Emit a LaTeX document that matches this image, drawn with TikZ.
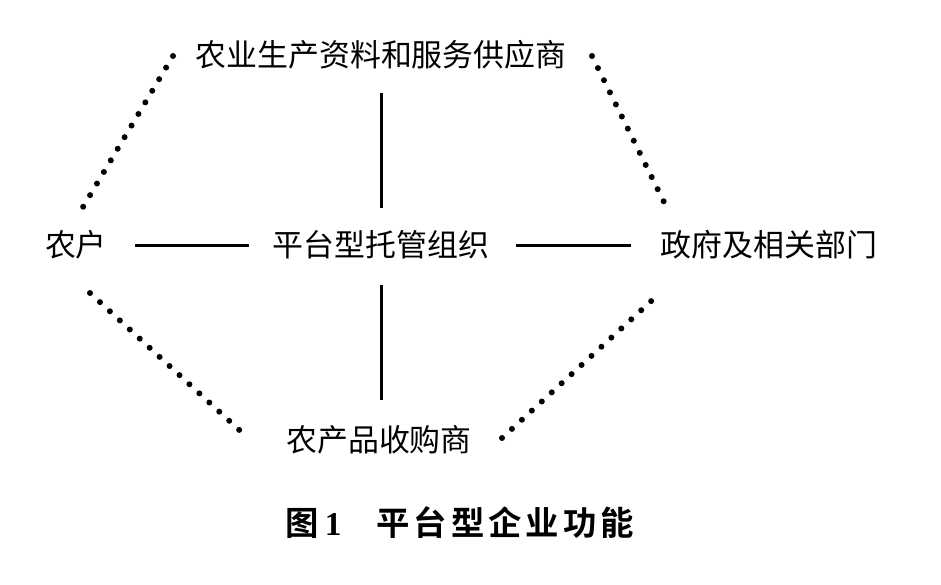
\documentclass[tikz,border=0pt]{standalone}
\usepackage{fontspec}
\newfontfamily\cjk{Noto Sans CJK SC}
\newfontfamily\cjkbold[LetterSpace=12]{Noto Sans CJK SC Bold}
\newfontfamily\digitfont{Liberation Serif}
\begin{document}
\begin{tikzpicture}[x=0.02cm,y=-0.02cm,
  lbl/.style={inner sep=0pt,minimum height=0.6cm,font=\cjk\fontsize{17.6pt}{17.6pt}\selectfont},
  solidlink/.style={line width=0.06cm},
  dotlink/.style={line width=0.12cm,line cap=round,dash pattern=on 0pt off 0.27cm}]
\useasboundingbox (0,0) rectangle (941,585);
\node[lbl] (top) at (381,55) {农业生产资料和服务供应商};
\node[lbl] (farm) at (76,245) {农户};
\node[lbl] (mid) at (381,245) {平台型托管组织};
\node[lbl] (gov) at (769,245) {政府及相关部门};
\node[lbl] (buy) at (379,440) {农产品收购商};
\node[inner sep=0pt] (cap) at (460,523) {\cjkbold\fontsize{19pt}{19pt}\selectfont 图\,{\digitfont\bfseries 1}\hspace{0.7cm}平台型企业功能};
% solid links
\draw[solidlink, shorten <=0.46cm, shorten >=0.44cm] (top.south -| mid) -- (mid.north);
\draw[solidlink, shorten <=0.5cm, shorten >=0.5cm] (mid.south) -- (buy.north -| mid);
\draw[solidlink, shorten <=0.56cm, shorten >=0.47cm] (farm.east) -- (mid.west);
\draw[solidlink, shorten <=0.53cm, shorten >=0.59cm] (mid.east) -- (gov.west);
% dotted links
\coordinate (tl1) at (173,56);
\coordinate (tl2) at (83,207);
\coordinate (tr1) at (592,56);
\coordinate (tr2) at (664,202);
\coordinate (bl1) at (90,293);
\coordinate (bl2) at (248,438);
\coordinate (br1) at (502,438);
\coordinate (br2) at (660,293);
\draw[dotlink] (tl1) -- (tl2);
\draw[dotlink] (tr1) -- (tr2);
\draw[dotlink] (bl1) -- (bl2);
\draw[dotlink] (br1) -- (br2);
\end{tikzpicture}
\end{document}
